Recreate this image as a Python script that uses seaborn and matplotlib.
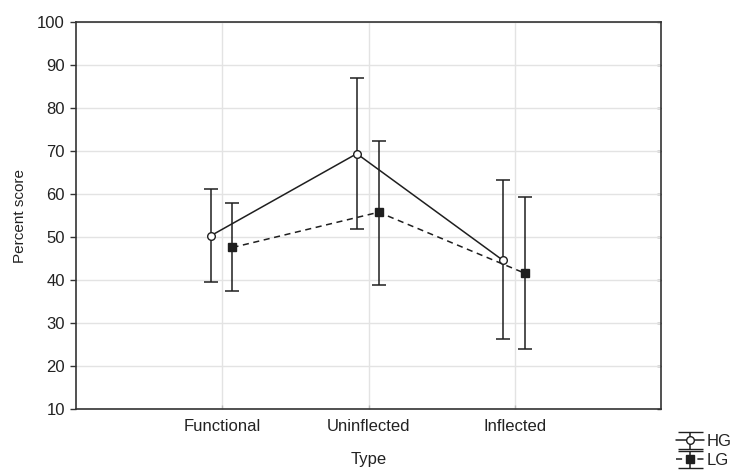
import matplotlib
matplotlib.use("Agg")
import matplotlib.pyplot as plt
import seaborn as sns
import pandas as pd
import numpy as np

# Word types on the x axis and group scores (mean, upper and lower limits)
types = ["Functional", "Uninflected", "Inflected"]
groups = ["HG", "LG"]
hg_mean = [50.3, 69.4, 44.6]
hg_upper = [61.2, 87.1, 63.2]
hg_lower = [39.6, 52.0, 26.4]
lg_mean = [47.6, 55.8, 41.6]
lg_upper = [58.0, 72.4, 59.3]
lg_lower = [37.4, 38.9, 24.1]
y_ticks = [10, 20, 30, 40, 50, 60, 70, 80, 90, 100]

sns.set_style("whitegrid")
plt.rcParams["font.family"] = ["Liberation Sans", "DejaVu Sans"]

rows = []
for g, m, up, lo in [("HG", hg_mean, hg_upper, hg_lower),
                     ("LG", lg_mean, lg_upper, lg_lower)]:
    for i, t in enumerate(types):
        rows.append({"Type": t, "pos": i, "Group": g, "score": m[i],
                     "upper": up[i], "lower": lo[i]})
df = pd.DataFrame(rows)

# slight horizontal dodge so the two groups do not overlap
dodge = {"HG": -0.08, "LG": 0.07}
df["x"] = df["pos"] + df["Group"].map(dodge)

fig = plt.figure(figsize=(7.37, 4.73), dpi=100)
ax = fig.add_axes([76 / 737, 1 - 409.3 / 473, (661 - 76) / 737, (409.3 - 22) / 473])

ink = "#1f1f1f"
fs = 12
styles = {
    "HG": dict(ls="-", marker="o", mfc="white", mec=ink, ms=5.5, mew=1.0),
    "LG": dict(ls=(0, (4, 3)), marker="s", mfc=ink, mec=ink, ms=5.5, mew=1.0),
}

handles = []
for g in groups:
    sub = df[df["Group"] == g].sort_values("pos")
    sns.lineplot(data=sub, x="x", y="score", ax=ax, color=ink, lw=1.1,
                 linestyle=styles[g]["ls"], marker=styles[g]["marker"],
                 markerfacecolor=styles[g]["mfc"], markeredgecolor=styles[g]["mec"],
                 markersize=styles[g]["ms"], markeredgewidth=styles[g]["mew"],
                 estimator=None, sort=False, legend=False, zorder=4)
    yerr = np.vstack([sub["score"] - sub["lower"], sub["upper"] - sub["score"]])
    ax.errorbar(sub["x"], sub["score"], yerr=yerr, fmt="none", ecolor=ink,
                elinewidth=1.1, capsize=5, capthick=1.1, zorder=3)
    # legend proxy: line, marker and error bar together
    proxy = ax.errorbar([np.nan], [np.nan], yerr=[[1], [1]], color=ink,
                        ls=styles[g]["ls"], lw=1.1, marker=styles[g]["marker"],
                        mfc=styles[g]["mfc"], mec=styles[g]["mec"],
                        ms=styles[g]["ms"], capsize=9, elinewidth=1.1)
    handles.append(proxy)

ax.set_xlim(-1, 3)
ax.set_ylim(10, 100)
ax.set_xticks(range(len(types)))
ax.set_xticklabels(types)
ax.set_yticks(y_ticks)
ax.set_xlabel("Type", fontsize=fs, color="#222222", labelpad=13)
ax.set_ylabel("Percent score", fontsize=11, color="#222222", labelpad=7)
ax.tick_params(axis="both", labelsize=fs, labelcolor="#222222")
ax.tick_params(axis="y", left=True, direction="out", length=4, width=1, color="#333333", pad=4)
ax.tick_params(axis="x", bottom=True, direction="in", length=3, width=1, color="#bbbbbb", pad=7)

ax.grid(True, color="#e3e3e3", lw=1)
for s in ax.spines.values():
    s.set_visible(True)
    s.set_color("#333333")
    s.set_linewidth(1.2)

# inward ticks on the right-hand frame
right = ax.secondary_yaxis("right")
right.set_yticks(y_ticks)
right.tick_params(direction="in", length=3, width=1, color="#333333", labelright=False)
right.spines["right"].set_visible(False)

fig.legend(handles, groups, loc="upper left", bbox_to_anchor=(676 / 737, 1 - 434 / 473),
           frameon=False, fontsize=fs, handlelength=1.7, handletextpad=0.15,
           labelspacing=0.25, borderpad=0, borderaxespad=0, labelcolor="#222222")

fig.savefig("out.png", dpi=100, facecolor="white")
